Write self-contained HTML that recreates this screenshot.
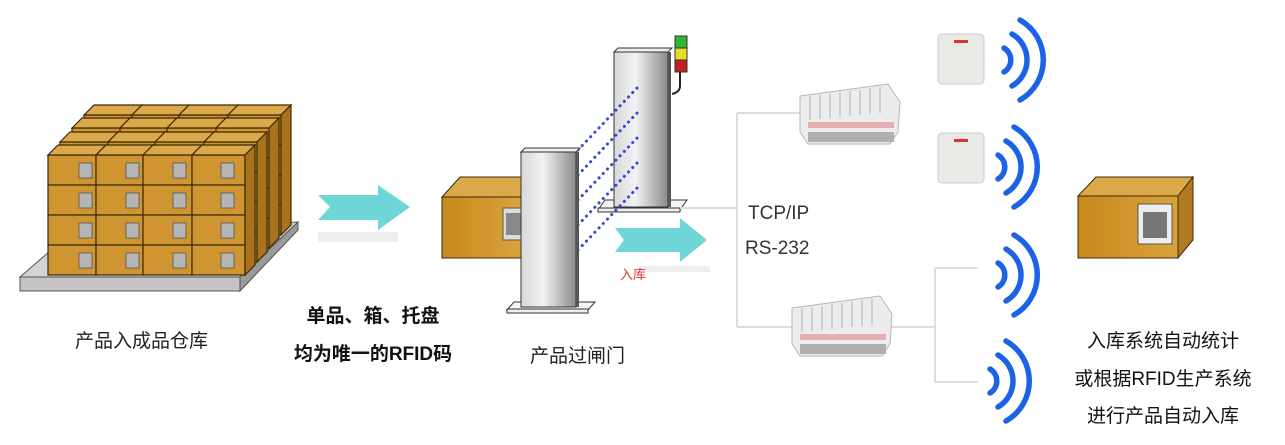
<!DOCTYPE html>
<html><head><meta charset="utf-8"><style>
html,body{margin:0;padding:0;background:#fff;}
svg{display:block}
text{font-family:"Liberation Sans","Noto Sans CJK SC",sans-serif;}
</style></head><body>
<svg width="1285" height="445" viewBox="0 0 1285 445" xmlns="http://www.w3.org/2000/svg">
<defs>
<linearGradient id="pil" x1="0" x2="1"><stop offset="0" stop-color="#d8d8d8"/><stop offset="0.4" stop-color="#f2f2f2"/><stop offset="1" stop-color="#8a8a8a"/></linearGradient>
<linearGradient id="bx" x1="0" x2="1"><stop offset="0" stop-color="#c8891e"/><stop offset="1" stop-color="#d9a33c"/></linearGradient>
<g id="layer">
  <g stroke="#3b2a0a" stroke-width="1.2" fill="#cf9530">
    <rect x="48" y="155" width="48" height="30"/><rect x="96" y="155" width="47" height="30"/><rect x="143" y="155" width="49" height="30"/><rect x="192" y="155" width="53" height="30"/>
    <rect x="48" y="185" width="48" height="30"/><rect x="96" y="185" width="47" height="30"/><rect x="143" y="185" width="49" height="30"/><rect x="192" y="185" width="53" height="30"/>
    <rect x="48" y="215" width="48" height="30"/><rect x="96" y="215" width="47" height="30"/><rect x="143" y="215" width="49" height="30"/><rect x="192" y="215" width="53" height="30"/>
    <rect x="48" y="245" width="48" height="30"/><rect x="96" y="245" width="47" height="30"/><rect x="143" y="245" width="49" height="30"/><rect x="192" y="245" width="53" height="30"/>
    <polygon points="48,155 58,145 106,145 96,155" fill="#dba84a"/><polygon points="96,155 106,145 153,145 143,155" fill="#dba84a"/><polygon points="143,155 153,145 202,145 192,155" fill="#dba84a"/><polygon points="192,155 202,145 255,145 245,155" fill="#dba84a"/>
    <polygon points="245,155 255,145 255,265 245,275" fill="#a8731c"/>
  </g>
</g>
<g id="qrs" fill="#b5b5b5" stroke="#555" stroke-width="0.8">
  <rect x="79" y="163" width="13" height="15"/><rect x="126" y="163" width="13" height="15"/><rect x="173" y="163" width="13" height="15"/><rect x="221" y="163" width="13" height="15"/>
  <rect x="79" y="193" width="13" height="15"/><rect x="126" y="193" width="13" height="15"/><rect x="173" y="193" width="13" height="15"/><rect x="221" y="193" width="13" height="15"/>
  <rect x="79" y="223" width="13" height="15"/><rect x="126" y="223" width="13" height="15"/><rect x="173" y="223" width="13" height="15"/><rect x="221" y="223" width="13" height="15"/>
  <rect x="79" y="253" width="13" height="15"/><rect x="126" y="253" width="13" height="15"/><rect x="173" y="253" width="13" height="15"/><rect x="221" y="253" width="13" height="15"/>
</g>
<g id="wave" fill="none" stroke="#1b62e6" stroke-width="5.5" stroke-linecap="round">
  <path d="M-6,-12 A14,14 0 0 1 -6,12"/>
  <path d="M2,-26 A30,30 0 0 1 2,26"/>
  <path d="M10,-40 A46,46 0 0 1 10,40"/>
</g>
<g id="reader">
  <polygon points="0,14 88,2 100,20 98,50 90,62 8,62 0,50" fill="#ececec" stroke="#b5b5b5"/>
  <g stroke="#c4c4c4" stroke-width="1.5"><line x1="10" y1="14" x2="10" y2="38"/><line x1="20" y1="13" x2="20" y2="37"/><line x1="30" y1="12" x2="30" y2="36"/><line x1="40" y1="10" x2="40" y2="35"/><line x1="50" y1="9" x2="50" y2="34"/><line x1="60" y1="8" x2="60" y2="33"/><line x1="70" y1="6" x2="70" y2="32"/><line x1="80" y1="5" x2="80" y2="31"/></g>
  <rect x="8" y="40" width="86" height="6" fill="#d66" opacity="0.45"/>
  <rect x="8" y="50" width="86" height="10" fill="#b0b0b0"/>
</g>
<g id="ant">
  <rect x="0" y="0" width="46" height="50" rx="4" fill="#e9e9e6" stroke="#ccc"/>
  <rect x="16" y="6" width="14" height="3" fill="#d33"/>
</g>
</defs>

<!-- pallet -->
<polygon points="20,277 72,232 298,222 240,277" fill="#d4d4d4" stroke="#555"/>
<polygon points="240,277 298,222 298,230 240,291" fill="#9a9a9a" stroke="#555"/>
<rect x="20" y="277" width="220" height="14" fill="#c4c4c4" stroke="#555"/>
<use href="#layer" transform="translate(36,-40)"/>
<use href="#layer" transform="translate(24,-27)"/>
<use href="#layer" transform="translate(12,-13)"/>
<use href="#layer"/>
<use href="#qrs"/>

<!-- arrow 1 -->
<rect x="318" y="232" width="80" height="10" fill="#eee"/>
<polygon points="318,195 378,195 378,185 410,207 378,230 378,220 318,220 330,207" fill="#6fd6d8"/>

<!-- middle box -->
<polygon points="442,197 460,177 540,177 520,197" fill="#dba84a" stroke="#3b2a0a"/>
<rect x="442" y="197" width="80" height="61" fill="url(#bx)" stroke="#3b2a0a"/>
<rect x="503" y="208" width="22" height="32" fill="#ddd" stroke="#555"/>
<rect x="506" y="213" width="15" height="22" fill="#888"/>

<!-- gate right -->
<polygon points="598,210 605,200 687,200 680,210" fill="#f5f5f5" stroke="#333"/>
<rect x="598" y="208" width="82" height="4" fill="#eee" stroke="#333"/>
<polygon points="614,52 618,48 672,48 668,52" fill="#eee" stroke="#333"/>
<rect x="614" y="52" width="54" height="155" fill="url(#pil)" stroke="#333"/>
<rect x="668" y="52" width="3" height="155" fill="#555"/>
<path d="M680,72 L680,86 Q680,92 672,94" fill="none" stroke="#222" stroke-width="2"/>
<rect x="675" y="36" width="12" height="12" fill="#2fb52f" stroke="#333"/>
<rect x="675" y="48" width="12" height="12" fill="#e7dc2a" stroke="#333"/>
<rect x="675" y="60" width="12" height="12" fill="#c0201e" stroke="#333"/>

<!-- dotted beams -->
<g stroke="#3547d8" stroke-width="3" stroke-dasharray="0.1 6" stroke-linecap="round" fill="none">
  <line x1="578" y1="150" x2="638" y2="87"/>
  <line x1="578" y1="175" x2="638" y2="112"/>
  <line x1="578" y1="200" x2="638" y2="137"/>
  <line x1="578" y1="225" x2="638" y2="162"/>
  <line x1="578" y1="250" x2="638" y2="187"/>
</g>

<!-- gate left -->
<polygon points="507,310 514,302 595,302 588,310" fill="#f5f5f5" stroke="#333"/>
<rect x="507" y="309" width="81" height="4" fill="#eee" stroke="#333"/>
<polygon points="521,152 525,148 580,148 576,152" fill="#eee" stroke="#333"/>
<rect x="521" y="152" width="55" height="155" fill="url(#pil)" stroke="#333"/>
<rect x="576" y="152" width="3" height="155" fill="#555"/>

<!-- arrow 2 -->
<rect x="640" y="266" width="70" height="6" fill="#eee"/>
<polygon points="615,228 680,228 680,218 707,240 680,262 680,252 615,252 624,240" fill="#6fd6d8"/>
<text x="620" y="279" font-size="13" fill="#e03030">入库</text>

<!-- connectors -->
<g stroke="#ddd" stroke-width="2" fill="none">
  <path d="M680,208 H737 M737,113 V327 M737,113 H800 M737,327 H792"/>
  <path d="M890,327 H935 M935,268 V382 M935,268 H978 M935,382 H978"/>
</g>
<text x="748" y="219" font-size="19" fill="#333">TCP/IP</text>
<text x="745" y="254" font-size="19" fill="#333">RS-232</text>

<use href="#reader" transform="translate(800,82)"/>
<use href="#reader" transform="translate(792,294)"/>
<use href="#ant" transform="translate(938,34)"/>
<use href="#ant" transform="translate(938,133)"/>

<use href="#wave" transform="translate(1010,60)"/>
<use href="#wave" transform="translate(1004,167)"/>
<use href="#wave" transform="translate(1004,275)"/>
<use href="#wave" transform="translate(996,381)"/>

<!-- right box -->
<polygon points="1078,196 1096,177 1193,177 1178,196" fill="#dba84a" stroke="#3b2a0a"/>
<polygon points="1178,196 1193,177 1193,240 1178,258" fill="#b07a20" stroke="#3b2a0a"/>
<rect x="1078" y="196" width="100" height="62" fill="url(#bx)" stroke="#3b2a0a"/>
<rect x="1138" y="204" width="34" height="40" fill="#eee" stroke="#555"/>
<rect x="1143" y="212" width="24" height="26" fill="#777"/>

<!-- labels -->
<text x="75" y="347" font-size="19" fill="#222">产品入成品仓库</text>
<text x="373" y="322" font-size="19" font-weight="bold" fill="#111" text-anchor="middle">单品、箱、托盘</text>
<text x="373" y="360" font-size="19" font-weight="bold" fill="#111" text-anchor="middle">均为唯一的RFID码</text>
<text x="530" y="362" font-size="19" fill="#222">产品过闸门</text>
<text x="1163" y="347" font-size="19" fill="#111" text-anchor="middle">入库系统自动统计</text>
<text x="1163" y="385" font-size="19" fill="#111" text-anchor="middle">或根据RFID生产系统</text>
<text x="1163" y="422" font-size="19" fill="#111" text-anchor="middle">进行产品自动入库</text>
</svg>
</body></html>
